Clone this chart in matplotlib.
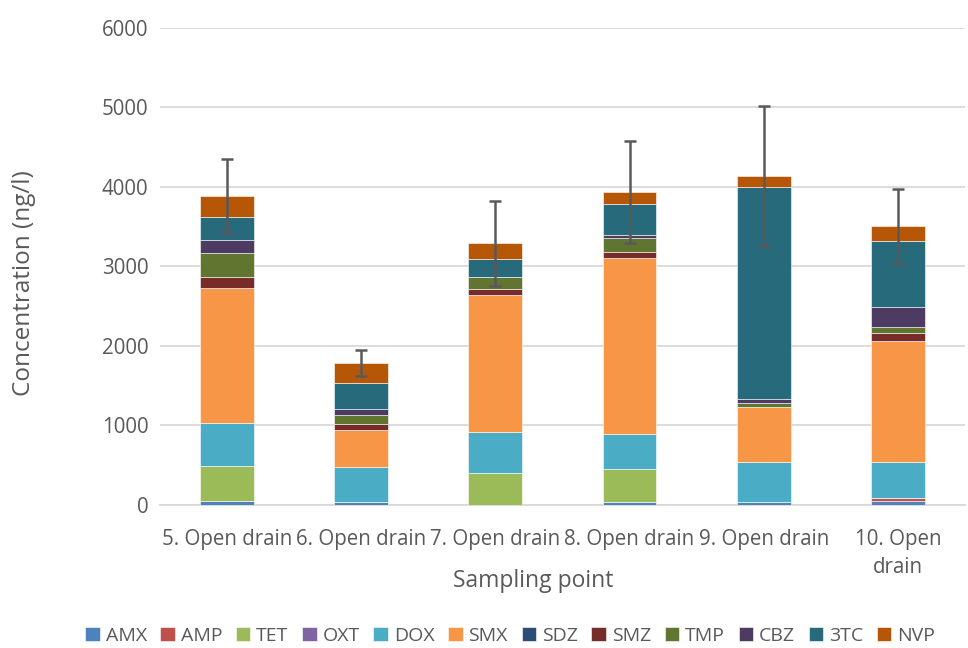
import numpy as np
import matplotlib
matplotlib.use("Agg")
import matplotlib.pyplot as plt

# sampling points
sites = ["5. Open drain", "6. Open drain", "7. Open drain",
         "8. Open drain", "9. Open drain", "10. Open\ndrain"]

# concentration per compound (ng/l), stacked bottom to top
AMX = [45, 42, 0, 42, 42, 50]
AMP = [0, 0, 0, 0, 0, 34]
TET = [450, 0, 402, 411, 0, 0]
OXT = [0, 0, 0, 0, 0, 0]
DOX = [530, 440, 520, 444, 495, 461]
SMX = [1705, 461, 1724, 2210, 696, 1522]
SDZ = [0, 0, 0, 0, 0, 0]
SMZ = [140, 80, 67, 80, 0, 101]
TMP = [305, 105, 151, 171, 46, 75]
CBZ = [155, 80, 0, 42, 50, 244]
TC3 = [290, 323, 226, 386, 2675, 830]
NVP = [270, 255, 201, 151, 134, 189]

# standard deviation of the total
err = [465, 160, 535, 645, 880, 470]

names = ["AMX", "AMP", "TET", "OXT", "DOX", "SMX", "SDZ", "SMZ", "TMP", "CBZ", "3TC", "NVP"]
series = [AMX, AMP, TET, OXT, DOX, SMX, SDZ, SMZ, TMP, CBZ, TC3, NVP]
colors = ["#4F81BD", "#C0504D", "#9BBB59", "#8064A2", "#4BACC6", "#F79646",
          "#2C4D75", "#772C2A", "#5F7530", "#4D3B62", "#276A7C", "#B65708"]

plt.rcParams['font.family'] = ['Open Sans', 'DejaVu Sans']
grey = "#595959"

fig = plt.figure(figsize=(9.68, 6.48), dpi=100)
ax = fig.add_axes([0.165, 0.2207, 0.832, 0.7363])

x = np.arange(len(sites))
bottom = np.zeros(len(sites))
for name, vals, c in zip(names, series, colors):
    ax.bar(x, vals, 0.4, bottom=bottom, color=c, label=name,
           edgecolor="white", linewidth=0.4, zorder=3)
    bottom += np.array(vals)

ax.errorbar(x, bottom, yerr=err, fmt="none", ecolor=grey, elinewidth=1.8,
            capsize=4.5, capthick=1.8, zorder=4)

ax.set_xlim(-0.5, len(sites) - 0.5)
ax.set_ylim(0, 6000)
ax.set_yticks(np.arange(0, 6001, 1000))
ax.yaxis.grid(True, color="#d9d9d9", linewidth=1.3, zorder=0)
ax.set_axisbelow(True)
for s in ["top", "right", "left"]:
    ax.spines[s].set_visible(False)
ax.spines["bottom"].set_color("#d9d9d9")
ax.spines["bottom"].set_linewidth(1.3)
ax.tick_params(length=0, labelsize=14.8, colors=grey)
ax.tick_params(axis="y", pad=8)
ax.tick_params(axis="x", pad=17)
ax.set_xticks(x)
ax.set_xticklabels(sites, linespacing=1.45)

ax.set_ylabel("Concentration (ng/l)", fontsize=17.5, color=grey)
ax.yaxis.set_label_coords((36 - 160) / 805, (505 - 283) / 477)
ax.set_xlabel("Sampling point", fontsize=16.5, color=grey)
ax.xaxis.set_label_coords((533 - 160) / 805, -0.134)

fig.legend(*ax.get_legend_handles_labels(), loc="center",
           bbox_to_anchor=(0.527, 1 - 636 / 648), ncol=12, frameon=False,
           fontsize=14, handlelength=0.75, handleheight=0.75, handletextpad=0.3,
           columnspacing=0.7, labelcolor=grey)

fig.savefig("out.png", dpi=100)
